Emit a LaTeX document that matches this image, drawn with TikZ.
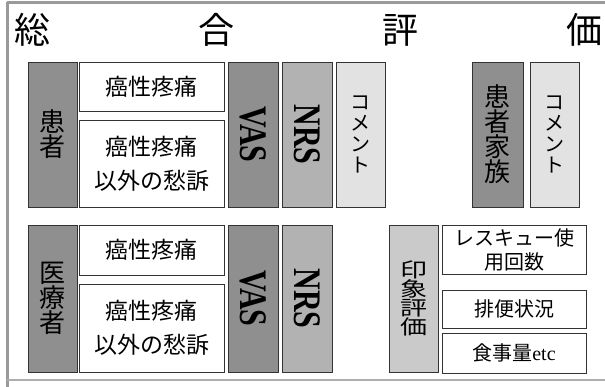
\documentclass[tikz,border=0pt]{standalone}
\usepackage{fontspec}
\setmainfont{Liberation Serif}
\newfontfamily\jp{Noto Sans CJK JP}
\usetikzlibrary{positioning}

\definecolor{darkcell}{HTML}{8F8F8F}
\definecolor{midcell}{HTML}{B2B2B2}
\definecolor{lightcell}{HTML}{E2E2E2}
\definecolor{impcell}{HTML}{CACACA}
\definecolor{framegray}{HTML}{9A9A9A}

\tikzset{
  box/.style={draw=black!80, line width=0.8pt, inner sep=0pt, outer sep=0pt, align=center},
  cell/.style={box, fill=white, minimum width=145pt, font=\jp\fontsize{23}{34}\selectfont},
  side/.style={box, fill=darkcell, minimum width=49pt, font=\jp\fontsize{26}{25}\selectfont},
  rating/.style={box, minimum width=50pt, font=\bfseries\fontsize{30}{30}\selectfont},
  note/.style={box, fill=lightcell, minimum width=49pt, font=\jp\fontsize{20}{21}\selectfont},
  extra/.style={box, fill=white, minimum width=144pt, font=\jp\fontsize{20}{24}\selectfont},
  title/.style={font=\jp\fontsize{36}{36}\selectfont, inner sep=0pt},
  frame/.style={draw=framegray, line width=3pt}
}

\begin{document}
\begin{tikzpicture}[x=1pt, y=-1pt]
    \useasboundingbox (0,0) rectangle (605,387);

    % frame
    \draw[frame] (7,3) -- (605,3);
    \draw[frame] (7,2) -- (7,387);
    \draw[frame, line width=2pt, draw=framegray!80] (7,380) -- (605,380);

    % title
    \foreach \ch [count=\i] in {総,合,評,価}
      \node[title] (ttl\i) at ({32+184*(\i-1)},30) {\ch};

    % patient row
    \node[side, minimum height=145pt, anchor=north west] (pat) at (28,62) {患\\者};
    \node[cell, minimum height=49pt, right=2pt of pat.north east, anchor=north west] (pat-pain) {癌性疼痛};
    \node[cell, minimum height=87pt, right=2pt of pat.south east, anchor=south west] (pat-other) {癌性疼痛\\以外の愁訴};
    \node[rating, fill=darkcell, minimum height=145pt, right=4pt of pat-pain.north east, anchor=north west] (pat-vas)
      {\rotatebox{-90}{\scalebox{1}[1.3]{VAS}}};
    \node[rating, fill=midcell, minimum height=145pt, right=4pt of pat-vas.north east, anchor=north west] (pat-nrs)
      {\rotatebox{-90}{\scalebox{1}[1.3]{NRS}}};
    \node[note, minimum height=145pt, right=4pt of pat-nrs.north east, anchor=north west] (pat-cmt) {コ\\メ\\ン\\ト};

    % family
    \node[side, minimum width=51pt, minimum height=145pt, right=87pt of pat-cmt.north east, anchor=north west] (fam) {患\\者\\家\\族};
    \node[note, minimum height=145pt, right=7pt of fam.north east, anchor=north west] (fam-cmt) {コ\\メ\\ン\\ト};

    % medical staff row
    \node[side, minimum height=147pt, anchor=north west] (med) at (28,225) {医\\療\\者};
    \node[cell, minimum height=50pt, right=2pt of med.north east, anchor=north west] (med-pain) {癌性疼痛};
    \node[cell, minimum height=88pt, right=2pt of med.south east, anchor=south west] (med-other) {癌性疼痛\\以外の愁訴};
    \node[rating, fill=darkcell, minimum height=147pt, right=4pt of med-pain.north east, anchor=north west] (med-vas)
      {\rotatebox{-90}{\scalebox{1}[1.3]{VAS}}};
    \node[rating, fill=midcell, minimum height=147pt, right=4pt of med-vas.north east, anchor=north west] (med-nrs)
      {\rotatebox{-90}{\scalebox{1}[1.3]{NRS}}};

    % impression
    \node[box, fill=impcell, minimum width=49pt, minimum height=147pt, font=\jp\fontsize{20}{19}\selectfont,
      right=57pt of med-nrs.north east, anchor=north west] (imp)
      {\scalebox{1.35}[1]{\vbox{\baselineskip=19pt\hbox{印}\hbox{象}\hbox{評}\hbox{価}}}};
    \node[extra, minimum height=49pt, right=4pt of imp.north east, anchor=north west] (rescue) {レスキュー使\\用回数};
    \node[extra, minimum height=38pt, below=16pt of rescue] (stool) {排便状況};
    \node[extra, minimum height=40pt, below=5pt of stool] (meal) {食事量{\rmfamily etc}};
\end{tikzpicture}
\end{document}
